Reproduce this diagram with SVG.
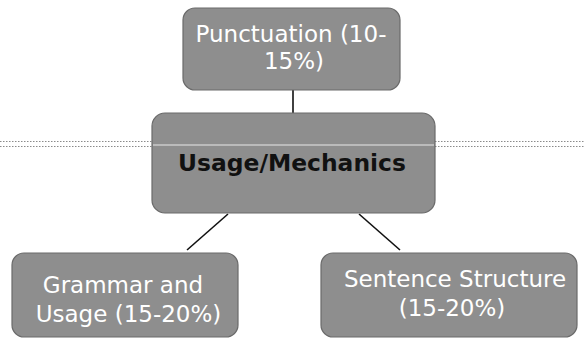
<svg xmlns="http://www.w3.org/2000/svg" width="584" height="343" viewBox="0 0 584 343">
<style>
.box{fill:#8e8e8e;stroke:#6a6a6a;stroke-width:1.2}
.wt{font-family:"DejaVu Sans","Liberation Sans",sans-serif;font-size:23px;fill:#ffffff;text-anchor:middle}
.bt{font-family:"DejaVu Sans","Liberation Sans",sans-serif;font-size:23.4px;font-weight:bold;fill:#111111;text-anchor:middle}
.conn{stroke:#111;stroke-width:1.6;fill:none}
.scan{stroke:#8a8a8a;stroke-width:1;stroke-dasharray:1.5 1.5}
</style>
<rect width="584" height="343" fill="#ffffff"/>
<g id="scanline">
<line class="scan" x1="0" y1="141.5" x2="152" y2="141.5"/>
<line class="scan" x1="0" y1="146.5" x2="152" y2="146.5"/>
<line class="scan" x1="435" y1="141.5" x2="584" y2="141.5"/>
<line class="scan" x1="435" y1="146.5" x2="584" y2="146.5"/>
</g>
<g id="connectors">
<line class="conn" x1="293" y1="90" x2="293" y2="113"/>
<line class="conn" x1="228" y1="214" x2="187" y2="250"/>
<line class="conn" x1="359" y1="214" x2="400" y2="250"/>
</g>
<g id="punctuation">
<rect class="box" x="183" y="8" width="217" height="82" rx="12"/>
<text class="wt" x="291" y="42">Punctuation (10-</text>
<text class="wt" x="294" y="69">15%)</text>
</g>
<g id="usage-mechanics">
<rect class="box" x="152" y="113" width="283" height="100" rx="13"/>
<line x1="153" y1="145" x2="434" y2="145" stroke="#d8d8d8" stroke-width="2" stroke-opacity="0.6"/>
<text class="bt" x="292" y="171">Usage/Mechanics</text>
</g>
<g id="grammar-usage">
<rect class="box" x="12" y="253" width="226" height="84" rx="12"/>
<text class="wt" x="123" y="293">Grammar and</text>
<text class="wt" x="128.5" y="322">Usage (15-20%)</text>
</g>
<g id="sentence-structure">
<rect class="box" x="321" y="253" width="256" height="84" rx="12"/>
<text class="wt" x="455" y="287">Sentence Structure</text>
<text class="wt" x="452" y="316">(15-20%)</text>
</g>
</svg>
